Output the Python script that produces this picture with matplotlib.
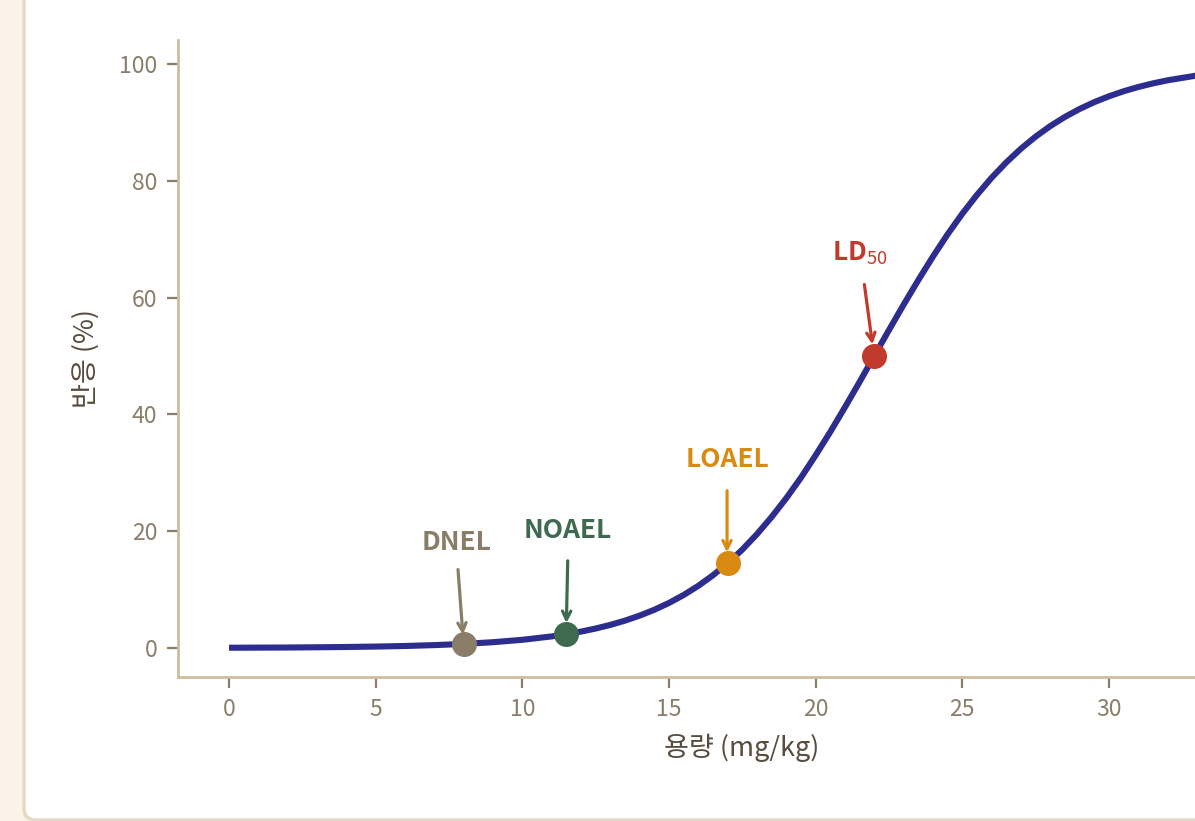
import matplotlib
matplotlib.use('Agg')
import matplotlib.pyplot as plt
from matplotlib.patches import FancyBboxPatch

plt.rcParams['font.family'] = ['Noto Sans CJK KR', 'DejaVu Sans']
plt.rcParams['mathtext.fontset'] = 'custom'
plt.rcParams['mathtext.rm'] = 'Noto Sans CJK KR'

# dose-response curve
dose = [0, 1, 2, 3, 4, 5, 6, 7, 8, 9, 10, 11, 12, 12.5, 13, 13.5, 14, 14.5, 15, 15.5,
        16, 16.5, 17, 17.5, 18, 18.5, 19, 19.5, 20, 20.5, 21, 21.5, 22, 22.5, 23,
        23.5, 24, 24.5, 25, 25.5, 26, 26.5, 27, 27.5, 28, 28.5, 29, 29.5, 30, 30.5,
        31, 31.5, 32, 33, 34, 35, 36, 37]
response = [0.04, 0.06, 0.08, 0.12, 0.17, 0.24, 0.34, 0.49, 0.69, 0.99, 1.4, 1.98,
            2.8, 3.33, 3.95, 4.68, 5.54, 6.54, 7.71, 9.07, 10.64, 12.45, 14.51,
            16.84, 19.49, 22.43, 25.65, 29.16, 32.99, 37.0, 41.22, 45.56, 50.0,
            54.43, 58.78, 62.98, 67.01, 70.83, 74.35, 77.57, 80.51, 83.14, 85.49,
            87.55, 89.36, 90.93, 92.29, 93.46, 94.46, 95.32, 96.05, 96.67, 97.2,
            98.02, 98.6, 99.01, 99.31, 99.51]

# marked points
pt_names = ['DNEL', 'NOAEL', 'LOAEL', 'LD$_{50}$']
pt_x = [8, 11.5, 17, 22]
pt_y = [0.69, 2.4, 14.5, 50]
label_x = [7.75, 11.55, 16.98, 21.5]
label_y = [18.0, 20.2, 32.2, 67.6]
arrow_from = [(7.8, 13.9), (11.55, 15.4), (16.98, 27.4), (21.65, 62.7)]
arrow_to = [(7.98, 1.8), (11.5, 3.8), (16.98, 15.9), (21.95, 51.5)]
pt_colors = ['#8a7d68', '#3e6b50', '#d98a12', '#c13a2c']

xticks = [0, 5, 10, 15, 20, 25, 30]
yticks = [0, 20, 40, 60, 80, 100]

W, H = 1195, 821
fig = plt.figure(figsize=(W / 100, H / 100), dpi=100, facecolor='#fbf3e8')
card = FancyBboxPatch((24, 1), 1400, 1000, boxstyle='round,pad=0,rounding_size=12',
                      transform=None, facecolor='white', edgecolor='#e6dac6',
                      linewidth=2.5, zorder=-5)
fig.patches.append(card)

# the card is cut off at the right edge of the picture
ax = fig.add_axes([178 / W, (H - 677) / H, (1306 - 178) / W, (677 - 40) / H])
ax.set_facecolor('none')
ax.set_zorder(2)

ax.plot(dose, response, color='#2d2d8f', linewidth=4.4, solid_capstyle='butt', zorder=2)
for i in range(len(pt_names)):
    ax.plot(pt_x[i], pt_y[i], 'o', color=pt_colors[i], markersize=17, zorder=3)
    ax.annotate('', xy=arrow_to[i], xytext=arrow_from[i],
                arrowprops=dict(arrowstyle='->,head_length=0.6,head_width=0.3',
                                color=pt_colors[i], linewidth=2.3), zorder=4)
    ax.text(label_x[i], label_y[i], pt_names[i], color=pt_colors[i], fontsize=19,
            fontweight='bold', ha='center', va='center', zorder=4)

ax.set_xlim(-1.74, 36.72)
ax.set_ylim(-4.97, 104.1)
ax.set_xticks(xticks)
ax.set_yticks(yticks)

for s in ['top', 'right']:
    ax.spines[s].set_visible(False)
for s in ['left', 'bottom']:
    ax.spines[s].set_color('#cbbf9f')
    ax.spines[s].set_linewidth(2)

ax.tick_params(colors='#8a7d6a', labelcolor='#8a7d6a', labelsize=16.5,
               length=8, width=1.6, pad=7)

ax.set_xlabel('용량 (mg/kg)', fontsize=19.5, color='#574c3e', labelpad=9)
ax.set_ylabel('반응 (%)', fontsize=19.5, color='#574c3e', labelpad=14)

fig.savefig('out.png', dpi=100, facecolor=fig.get_facecolor())
